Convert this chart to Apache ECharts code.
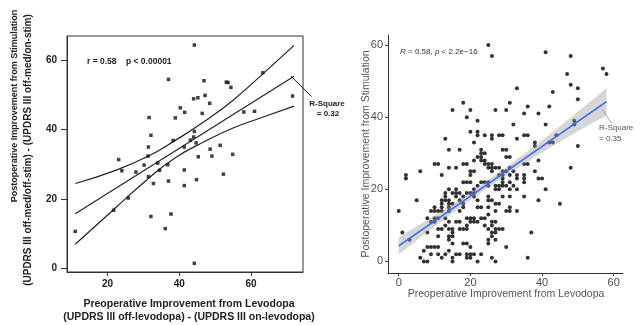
<!DOCTYPE html>
<html>
<head>
<meta charset="utf-8">
<title>Levodopa response vs stimulation improvement</title>
<script src="https://cdn.jsdelivr.net/npm/echarts@6/dist/echarts.min.js"></script>
<style>
  html, body { margin: 0; padding: 0; background: #fff; }
  #main { width: 641px; height: 325px; }
</style>
</head>
<body>
<div id="main"></div>
<script>
// ---- left panel (squares, with 95% band) ----
var leftPoints = [
  [11.0, 10.7], [44.2, 64.4], [37.0, 54.5], [46.9, 54.1], [53.1, 53.7], [53.6, 53.6],
  [54.4, 52.2], [63.3, 56.4], [71.6, 49.7], [58.0, 45.1], [61.0, 45.3], [44.0, 48.9],
  [45.2, 49.2], [47.2, 49.9], [48.5, 47.6], [40.3, 46.3], [41.5, 45.0], [38.9, 43.4],
  [46.4, 44.7], [31.6, 43.5], [32.1, 38.4], [44.2, 39.5], [44.0, 37.9], [43.1, 37.0],
  [38.3, 36.9], [44.7, 36.2], [41.4, 35.0], [31.4, 35.0], [48.6, 34.4], [51.4, 35.5],
  [31.3, 32.4], [45.3, 32.2], [49.1, 32.4], [54.9, 32.9], [23.1, 31.4], [34.0, 30.4],
  [30.2, 29.8], [36.8, 29.9], [24.0, 28.2], [27.9, 27.8], [34.5, 28.3], [41.4, 28.4],
  [31.4, 26.5], [32.8, 24.5], [37.0, 25.2], [41.4, 23.9], [44.8, 25.6], [52.3, 27.2],
  [25.8, 20.3], [21.7, 16.8], [32.1, 15.0], [37.7, 15.7], [36.1, 11.5], [44.2, 1.5]
];
var leftFitX = [11, 72];
var leftFitY = [15.8, 55.4];
var leftBandX = [11, 21.5, 31, 39, 47.5, 55, 63, 72];
var leftUpper = [24.5, 28.0, 32.2, 37.0, 42.7, 48.5, 55.8, 64.3];
var leftLower = [7.0, 16.8, 25.6, 32.0, 36.8, 40.5, 43.5, 46.8];
var leftTicksX = [20, 40, 60];
var leftTicksY = [0, 20, 40, 60];

// ---- right panel (dots, ggplot style) ----
var rightPoints = [
  [25, 60], [26, 57], [41, 58], [48, 57], [57, 53.5], [58, 52], [47, 52], [48, 49], [50, 48], [50, 45],
  [43, 47], [33, 48], [31, 44], [42, 43], [36, 43], [35, 41], [39, 41], [18, 44], [15, 42], [20, 42],
  [19, 40], [27, 42], [30, 42],
  [22, 39], [32, 38], [41, 38], [49, 38], [49, 39], [20, 36], [22, 36], [22, 35], [24, 35], [26, 35],
  [26, 34], [28, 35], [29, 35], [13, 34], [21, 33], [23, 31], [33, 34], [35, 35], [36, 35], [38, 33],
  [38, 32], [42, 33], [43, 33], [44, 35], [50, 32], [14, 31], [17, 31], [29, 31], [30, 31], [23, 30],
  [24, 30],
  [39, 28], [48, 26], [2, 24], [2, 23], [6, 25], [10, 27], [11, 27], [12, 24], [14, 26], [16, 26],
  [18, 27], [19, 27], [21, 28], [22, 29], [23, 29], [23, 28], [24, 28], [24, 27], [25, 27], [25, 26],
  [26, 27], [26, 26], [26, 25], [27, 26], [28, 26], [28, 24], [29, 25], [29, 24], [29, 23], [20, 25],
  [21, 25], [20, 24], [30, 29], [31, 29], [31, 26], [30, 25], [31, 24], [32, 25], [33, 24], [33, 23],
  [35, 27], [36, 27], [35, 24], [35, 23], [35, 22], [38, 25], [39, 23], [40, 23], [41, 20], [31, 22],
  [32, 21], [33, 20], [18, 22], [19, 22], [20, 22], [22, 21], [23, 22], [24, 22], [25, 22], [25, 21],
  [27, 21], [28, 21], [29, 22], [29, 21], [30, 21], [27, 20], [28, 20], [31, 20], [14, 20], [16, 20],
  [45, 16], [39, 17], [35, 18], [31, 18], [31, 15], [31, 14], [33, 14], [28, 16], [29, 18], [26, 17],
  [25, 15], [25, 17], [25, 18], [21, 20], [21, 19], [21, 18], [19, 19], [20, 19], [18, 18], [15, 19],
  [13, 19], [13, 18], [16, 18], [17, 19], [12, 17], [13, 17], [14, 17], [17, 17], [15, 16], [16, 19],
  [12, 16], [12, 15], [14, 16], [14, 14], [18, 16], [18, 15], [22, 17], [27, 16], [27, 14], [30, 14],
  [17, 14], [14, 15], [12, 14], [10, 15], [10, 14], [11, 14], [5, 17], [0, 14], [9, 14], [22, 15],
  [23, 15], [25, 13], [8, 12], [9, 11], [10, 12], [10, 11], [11, 12], [13, 12], [14, 11], [13, 10],
  [16, 11], [17, 11], [19, 12], [20, 12], [20, 11], [21, 12], [21, 11], [22, 11], [23, 12], [24, 12],
  [24, 10], [26, 11], [26, 10], [27, 11], [19, 10],
  [1, 8], [3, 6], [37, 8], [11, 9], [11, 7], [12, 9], [14, 9], [14, 7], [14, 6], [15, 9],
  [15, 8], [15, 7], [15, 5], [17, 9], [18, 9], [19, 9], [25, 9], [27, 9], [28, 9], [29, 9],
  [26, 8], [27, 8], [26, 7], [25, 6], [25, 5], [27, 6], [8, 8], [30, 4], [36, 1], [26, 1],
  [27, 0], [22, 0], [19, 1], [19, 2], [20, 2], [20, 1], [19, 5], [20, 4], [18, 5], [21, 2],
  [23, 2], [16, 2], [17, 2], [15, 1], [15, 0], [13, 2], [12, 1], [14, 3], [11, 2], [9, 2],
  [10, 4], [11, 4], [8, 4], [9, 4], [7, 3], [6, 1], [7, 0], [8, 0]
];
var rightFitX = [0, 58];
var rightFitY = [4.3, 44.3];
var rightBandX = [0, 10, 20, 30, 40, 50, 58];
var rightUpper = [6.7, 12.7, 19.1, 26.1, 33.6, 41.5, 48.1];
var rightLower = [1.9, 9.7, 17.1, 23.9, 30.2, 36.1, 40.5];
var rightTicksX = [0, 20, 40, 60];
var rightTicksY = [0, 20, 40, 60];

function zip(xs, ys) {
  return xs.map(function (x, i) { return [x, ys[i]]; });
}

var boldFont = 'Liberation Sans';
var plainFont = 'Liberation Sans';

var chart = echarts.init(document.getElementById('main'), null, { renderer: 'canvas' });

function leftLine(data) {
  return {
    type: 'line', xAxisIndex: 0, yAxisIndex: 0, data: data,
    smooth: true, symbol: 'none', silent: true, z: 3,
    lineStyle: { color: '#222', width: 1.2 }
  };
}

var option = {
  animation: false,
  backgroundColor: '#fff',
  grid: [
    { left: 67, top: 36, width: 236, height: 236, show: true, borderColor: '#333', borderWidth: 1, backgroundColor: 'transparent' },
    { left: 388, top: 35, width: 235, height: 238 }
  ],
  xAxis: [
    {
      gridIndex: 0, type: 'value', min: 8.7, max: 74.5,
      splitLine: { show: false },
      axisLine: { onZero: false, lineStyle: { color: '#333' } },
      axisTick: { customValues: leftTicksX, length: 4, lineStyle: { color: '#333' } },
      axisLabel: { customValues: leftTicksX, margin: 7, fontFamily: boldFont, fontWeight: 'bold', fontSize: 10, color: '#222' }
    },
    {
      gridIndex: 1, type: 'value', min: -3, max: 62.6,
      splitLine: { show: false },
      axisLine: { onZero: false, lineStyle: { color: '#333' } },
      axisTick: { customValues: rightTicksX, length: 3, lineStyle: { color: '#333' } },
      axisLabel: { customValues: rightTicksX, margin: 4, fontFamily: plainFont, fontSize: 11, color: '#4d4d4d' }
    }
  ],
  yAxis: [
    {
      gridIndex: 0, type: 'value', min: -1, max: 67,
      splitLine: { show: false },
      axisLine: { show: true, onZero: false, lineStyle: { color: '#333' } },
      axisTick: { show: true, customValues: leftTicksY, length: 6, lineStyle: { color: '#333' } },
      axisLabel: { customValues: leftTicksY, margin: 10, fontFamily: boldFont, fontWeight: 'bold', fontSize: 10, color: '#222' }
    },
    {
      gridIndex: 1, type: 'value', min: -3.2, max: 62.8,
      splitLine: { show: false },
      axisLine: { show: true, onZero: false, lineStyle: { color: '#333' } },
      axisTick: { show: true, customValues: rightTicksY, length: 3, lineStyle: { color: '#333' } },
      axisLabel: { customValues: rightTicksY, margin: 5, fontFamily: plainFont, fontSize: 11, color: '#4d4d4d' }
    }
  ],
  series: [
    {
      type: 'scatter', xAxisIndex: 0, yAxisIndex: 0, data: leftPoints,
      symbol: 'rect', symbolSize: 3.5, z: 4,
      itemStyle: { color: '#111' }
    },
    leftLine(zip(leftFitX, leftFitY)),
    leftLine(zip(leftBandX, leftUpper)),
    leftLine(zip(leftBandX, leftLower)),
    {
      type: 'scatter', xAxisIndex: 1, yAxisIndex: 1, data: rightPoints,
      symbolSize: 4, z: 2,
      itemStyle: { color: '#000' }
    },
    {
      // confidence ribbon around the fit
      type: 'custom', xAxisIndex: 1, yAxisIndex: 1, data: [0], silent: true, z: 3,
      renderItem: function (params, api) {
        var pts = [];
        var i;
        for (i = 0; i < rightBandX.length; i++) pts.push(api.coord([rightBandX[i], rightUpper[i]]));
        for (i = rightBandX.length - 1; i >= 0; i--) pts.push(api.coord([rightBandX[i], rightLower[i]]));
        return { type: 'polygon', shape: { points: pts }, style: { fill: 'rgba(153,153,153,0.4)' } };
      }
    },
    {
      type: 'line', xAxisIndex: 1, yAxisIndex: 1, data: zip(rightFitX, rightFitY),
      symbol: 'none', silent: true, z: 4,
      lineStyle: { color: '#3366ff', width: 1.5 }
    }
  ],
  graphic: [
    // left panel titles
    { type: 'text', x: 15, y: 106, rotation: Math.PI / 2,
      style: { text: 'Postoperative Improvement from Stimulation', font: 'bold 9px "Liberation Sans"', fill: '#222', align: 'center', verticalAlign: 'middle' } },
    { type: 'text', x: 28, y: 150, rotation: Math.PI / 2,
      style: { text: '(UPDRS III off-med/off-stim) - (UPDRS III off-med/on-stim)', font: 'bold 10px "Liberation Sans"', fill: '#222', align: 'center', verticalAlign: 'middle' } },
    { type: 'text', x: 189, y: 304,
      style: { text: 'Preoperative Improvement from Levodopa', font: 'bold 10.5px "Liberation Sans"', fill: '#222', align: 'center', verticalAlign: 'middle' } },
    { type: 'text', x: 189, y: 317,
      style: { text: '(UPDRS III off-levodopa) - (UPDRS III on-levodopa)', font: 'bold 10.5px "Liberation Sans"', fill: '#222', align: 'center', verticalAlign: 'middle' } },
    { type: 'text', x: 87, y: 62,
      style: { text: 'r = 0.58    p < 0.00001', font: 'bold 8.5px "Liberation Sans"', fill: '#222', align: 'left', verticalAlign: 'middle' } },
    { type: 'line', shape: { x1: 291, y1: 76, x2: 311.5, y2: 96.5 }, style: { stroke: '#222', lineWidth: 1 } },
    { type: 'text', x: 327, y: 104,
      style: { text: 'R-Square', font: 'bold 8px "Liberation Sans"', fill: '#222', align: 'center', verticalAlign: 'middle' } },
    { type: 'text', x: 328, y: 113.5,
      style: { text: '= 0.32', font: 'bold 8px "Liberation Sans"', fill: '#222', align: 'center', verticalAlign: 'middle' } },
    // right panel titles
    { type: 'text', x: 366, y: 154, rotation: Math.PI / 2,
      style: { text: 'Postoperative Improvement from Stimulation', font: '10.5px "Liberation Sans"', fill: '#555', align: 'center', verticalAlign: 'middle' } },
    { type: 'text', x: 506, y: 294,
      style: { text: 'Preoperative Improvement from Levodopa', font: '10.5px "Liberation Sans"', fill: '#555', align: 'center', verticalAlign: 'middle' } },
    { type: 'text', x: 400, y: 52,
      style: { text: '{i|R} = 0.58, {i|p} < 2.2e\u221216', fontFamily: 'Liberation Sans', fontSize: 8, fill: '#333', align: 'left', verticalAlign: 'middle',
        rich: { i: { fontStyle: 'italic', fontFamily: 'Liberation Sans', fontSize: 8, fill: '#333' } } } },
    { type: 'line', shape: { x1: 602, y1: 109, x2: 611.5, y2: 123 }, style: { stroke: '#999', lineWidth: 0.8 } },
    { type: 'text', x: 599, y: 128,
      style: { text: 'R-Square', font: '8px "Liberation Sans"', fill: '#555', align: 'left', verticalAlign: 'middle' } },
    { type: 'text', x: 599, y: 138.5,
      style: { text: '= 0.35', font: '8px "Liberation Sans"', fill: '#555', align: 'left', verticalAlign: 'middle' } }
  ]
};

chart.setOption(option);
</script>
</body>
</html>
